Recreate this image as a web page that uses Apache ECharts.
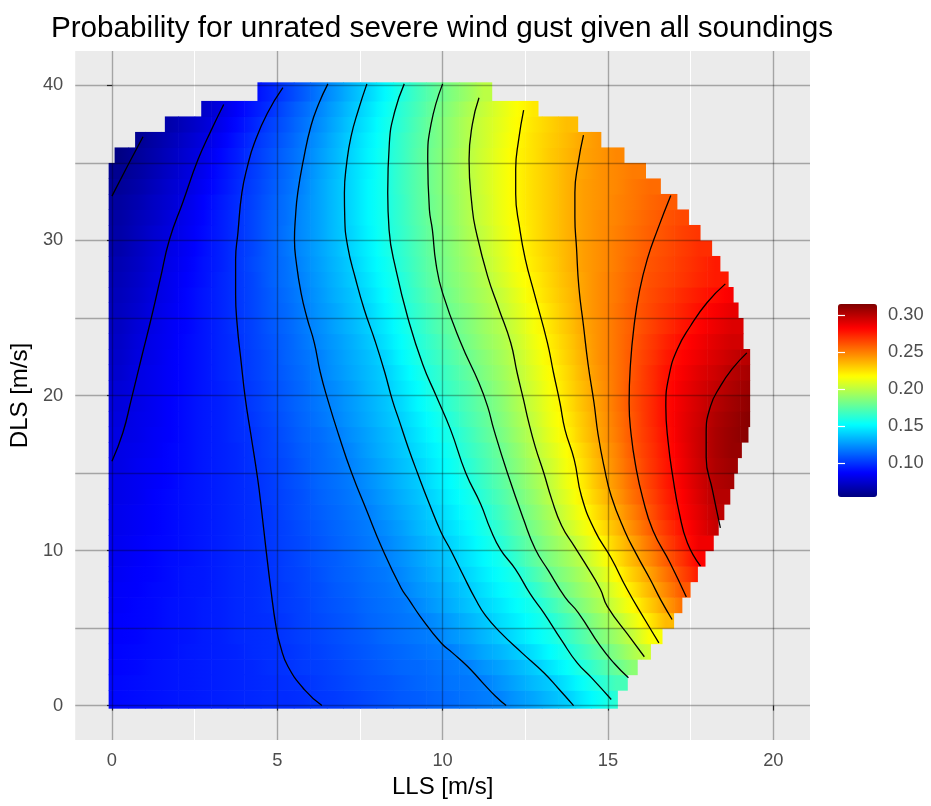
<!DOCTYPE html>
<html><head><meta charset="utf-8">
<script src="https://cdn.jsdelivr.net/npm/echarts@6/dist/echarts.min.js"></script>
<style>html,body{margin:0;padding:0;background:#fff}#c{width:931px;height:806px}</style>
</head><body><div id="c"></div>
<script>
// ---- data ----
const llsCenters = [0.25,0.75,1.25,1.75,2.25,2.75,3.25,3.75,4.25,4.75,5.25,5.75,6.25,6.75,7.25,7.75,8.25,8.75,9.25,9.75,10.25,10.75,11.25,11.75,12.25,12.75,13.25,13.75,14.25,14.75,15.25,15.75,16.25,16.75,17.25,17.75,18.25,18.75,19.25];
const dlsCenters = [0.5,1.5,2.5,3.5,4.5,5.5,6.5,7.5,8.5,9.5,10.5,11.5,12.5,13.5,14.5,15.5,16.5,17.5,18.5,19.5,20.5,21.5,22.5,23.5,24.5,25.5,26.5,27.5,28.5,29.5,30.5,31.5,32.5,33.5,34.5,35.5,36.5,37.5,38.5,39.5];
// extent of the sampled domain in each DLS row (LLS min / max), and overall DLS extent
const rowMinLLS = [-0.1,-0.1,-0.1,-0.1,-0.1,-0.1,-0.1,-0.1,-0.1,-0.1,-0.1,-0.1,-0.1,-0.1,-0.1,-0.1,-0.1,-0.1,-0.1,-0.1,-0.1,-0.1,-0.1,-0.1,-0.1,-0.1,-0.1,-0.1,-0.1,-0.1,-0.1,-0.1,-0.1,-0.1,-0.1,0.08,0.7,1.6,2.7,4.4];
const rowMaxLLS = [15.3,15.6,15.9,16.3,16.65,17.0,17.25,17.5,17.72,17.95,18.2,18.35,18.52,18.7,18.82,18.93,19.05,19.25,19.3,19.3,19.3,19.3,19.3,19.1,19.1,18.95,18.8,18.65,18.4,18.15,17.8,17.45,17.1,16.6,16.15,15.5,14.8,14.1,12.9,11.5];
const dlsExtent = [-0.2, 40.2];
// probability, one row per DLS value (bottom to top), one column per LLS value; null = no data
const prob = [
[0.089,0.090,0.091,0.092,0.093,0.094,0.095,0.096,0.097,0.098,0.098,0.099,0.101,0.102,0.104,0.106,0.108,0.110,0.111,0.113,0.115,0.117,0.119,0.121,0.126,0.130,0.135,0.140,0.148,0.155,0.163],
[0.089,0.090,0.091,0.092,0.093,0.094,0.095,0.096,0.097,0.098,0.099,0.100,0.102,0.104,0.106,0.108,0.109,0.111,0.113,0.115,0.117,0.118,0.120,0.125,0.130,0.135,0.139,0.146,0.154,0.162,0.170],
[0.088,0.089,0.091,0.092,0.093,0.094,0.095,0.096,0.097,0.099,0.100,0.102,0.103,0.105,0.107,0.109,0.111,0.113,0.114,0.116,0.118,0.120,0.125,0.129,0.134,0.139,0.146,0.153,0.161,0.170,0.179,0.188],
[0.088,0.089,0.090,0.091,0.093,0.094,0.095,0.096,0.098,0.099,0.100,0.102,0.104,0.106,0.108,0.110,0.112,0.114,0.116,0.118,0.120,0.125,0.130,0.134,0.139,0.145,0.152,0.159,0.168,0.177,0.186,0.196,0.205],
[0.087,0.088,0.090,0.091,0.092,0.094,0.095,0.097,0.098,0.099,0.101,0.103,0.105,0.107,0.109,0.111,0.114,0.116,0.118,0.120,0.125,0.129,0.134,0.139,0.145,0.151,0.157,0.165,0.174,0.184,0.193,0.203,0.216],
[0.087,0.088,0.089,0.091,0.092,0.094,0.095,0.097,0.098,0.099,0.101,0.104,0.106,0.108,0.110,0.113,0.115,0.117,0.119,0.123,0.128,0.133,0.138,0.144,0.149,0.155,0.161,0.170,0.180,0.190,0.199,0.211,0.223,0.235],
[0.086,0.088,0.089,0.091,0.092,0.094,0.095,0.097,0.098,0.100,0.102,0.104,0.107,0.109,0.111,0.114,0.116,0.118,0.122,0.127,0.132,0.137,0.142,0.147,0.153,0.158,0.167,0.177,0.187,0.196,0.207,0.218,0.230,0.242,0.254],
[0.086,0.087,0.089,0.090,0.092,0.093,0.095,0.097,0.098,0.100,0.102,0.105,0.107,0.110,0.112,0.115,0.117,0.120,0.125,0.129,0.134,0.139,0.145,0.151,0.156,0.164,0.174,0.183,0.192,0.200,0.212,0.224,0.236,0.248,0.260],
[0.085,0.087,0.088,0.090,0.092,0.093,0.095,0.097,0.098,0.100,0.103,0.105,0.108,0.111,0.113,0.116,0.118,0.122,0.127,0.132,0.137,0.142,0.148,0.154,0.160,0.170,0.180,0.188,0.196,0.206,0.218,0.230,0.241,0.253,0.265,0.276],
[0.084,0.086,0.088,0.090,0.091,0.093,0.095,0.097,0.098,0.100,0.103,0.106,0.109,0.111,0.114,0.117,0.120,0.124,0.129,0.134,0.139,0.145,0.151,0.157,0.166,0.176,0.185,0.193,0.201,0.212,0.224,0.236,0.247,0.259,0.270,0.282],
[0.084,0.086,0.088,0.089,0.091,0.093,0.095,0.097,0.099,0.101,0.104,0.106,0.109,0.112,0.115,0.118,0.121,0.126,0.131,0.136,0.142,0.148,0.155,0.162,0.171,0.180,0.189,0.197,0.207,0.218,0.230,0.241,0.253,0.265,0.276,0.286],
[0.083,0.085,0.087,0.089,0.091,0.093,0.095,0.097,0.099,0.101,0.104,0.107,0.110,0.113,0.116,0.119,0.123,0.128,0.134,0.139,0.145,0.151,0.158,0.166,0.175,0.184,0.193,0.203,0.213,0.224,0.235,0.247,0.258,0.269,0.279,0.288,0.297],
[0.083,0.085,0.087,0.089,0.091,0.093,0.095,0.097,0.099,0.101,0.105,0.108,0.111,0.114,0.117,0.120,0.125,0.130,0.135,0.141,0.147,0.154,0.160,0.169,0.178,0.187,0.196,0.207,0.217,0.228,0.239,0.250,0.261,0.272,0.282,0.290,0.299],
[0.082,0.084,0.087,0.089,0.091,0.093,0.095,0.097,0.099,0.102,0.105,0.108,0.112,0.115,0.118,0.122,0.127,0.132,0.137,0.143,0.150,0.156,0.164,0.172,0.181,0.190,0.200,0.210,0.221,0.232,0.243,0.254,0.264,0.274,0.283,0.292,0.301],
[0.082,0.084,0.086,0.088,0.091,0.093,0.095,0.097,0.099,0.102,0.106,0.109,0.113,0.116,0.119,0.124,0.129,0.134,0.139,0.146,0.152,0.159,0.167,0.175,0.184,0.193,0.202,0.213,0.223,0.235,0.245,0.256,0.266,0.276,0.285,0.294,0.302,0.305],
[0.081,0.084,0.086,0.088,0.090,0.093,0.095,0.097,0.100,0.103,0.106,0.110,0.114,0.117,0.121,0.126,0.131,0.136,0.141,0.148,0.155,0.162,0.170,0.178,0.187,0.196,0.205,0.215,0.226,0.237,0.248,0.258,0.268,0.277,0.286,0.295,0.303,0.307],
[0.081,0.083,0.085,0.088,0.090,0.093,0.095,0.097,0.100,0.104,0.107,0.111,0.114,0.118,0.122,0.128,0.133,0.138,0.144,0.150,0.157,0.165,0.172,0.180,0.189,0.199,0.208,0.217,0.228,0.239,0.249,0.260,0.269,0.278,0.287,0.296,0.304,0.309],
[0.080,0.082,0.085,0.087,0.090,0.093,0.095,0.098,0.100,0.104,0.108,0.112,0.115,0.119,0.124,0.129,0.134,0.139,0.146,0.153,0.159,0.167,0.175,0.183,0.192,0.201,0.211,0.220,0.231,0.241,0.251,0.261,0.270,0.279,0.288,0.296,0.304,0.309,0.313],
[0.079,0.082,0.084,0.087,0.090,0.093,0.095,0.098,0.101,0.105,0.109,0.113,0.117,0.121,0.126,0.131,0.136,0.141,0.148,0.155,0.162,0.170,0.177,0.185,0.194,0.203,0.213,0.222,0.232,0.242,0.252,0.261,0.271,0.280,0.288,0.295,0.303,0.308,0.313],
[0.078,0.081,0.084,0.087,0.090,0.093,0.095,0.098,0.102,0.106,0.110,0.114,0.118,0.122,0.127,0.132,0.137,0.143,0.151,0.158,0.165,0.172,0.179,0.187,0.196,0.205,0.214,0.224,0.234,0.243,0.253,0.262,0.271,0.280,0.287,0.294,0.301,0.306,0.311],
[0.077,0.080,0.083,0.086,0.089,0.092,0.095,0.098,0.102,0.106,0.110,0.114,0.119,0.123,0.128,0.134,0.139,0.146,0.153,0.161,0.168,0.174,0.182,0.190,0.198,0.207,0.216,0.226,0.235,0.244,0.253,0.262,0.270,0.279,0.286,0.292,0.298,0.303,0.308],
[0.075,0.080,0.083,0.086,0.089,0.092,0.096,0.099,0.103,0.107,0.111,0.115,0.120,0.125,0.130,0.135,0.140,0.148,0.156,0.163,0.170,0.177,0.185,0.192,0.200,0.209,0.218,0.227,0.237,0.245,0.253,0.261,0.270,0.278,0.284,0.290,0.295,0.301,0.305],
[0.074,0.079,0.082,0.086,0.089,0.092,0.096,0.099,0.103,0.107,0.112,0.116,0.120,0.126,0.131,0.136,0.142,0.151,0.159,0.166,0.173,0.180,0.187,0.194,0.202,0.211,0.220,0.229,0.238,0.246,0.253,0.261,0.268,0.276,0.282,0.287,0.292,0.297,0.301],
[0.073,0.078,0.082,0.085,0.089,0.092,0.096,0.099,0.104,0.108,0.112,0.117,0.122,0.127,0.132,0.138,0.145,0.153,0.161,0.168,0.176,0.183,0.190,0.196,0.204,0.213,0.222,0.230,0.239,0.246,0.253,0.260,0.267,0.274,0.280,0.285,0.290,0.294],
[0.072,0.077,0.081,0.085,0.088,0.092,0.096,0.100,0.104,0.109,0.113,0.118,0.123,0.129,0.134,0.140,0.147,0.155,0.163,0.171,0.178,0.185,0.192,0.198,0.206,0.215,0.224,0.232,0.240,0.246,0.253,0.259,0.265,0.271,0.277,0.282,0.287,0.291],
[0.071,0.075,0.080,0.084,0.088,0.092,0.096,0.100,0.105,0.110,0.114,0.119,0.125,0.130,0.136,0.142,0.150,0.158,0.166,0.173,0.181,0.187,0.194,0.201,0.209,0.217,0.225,0.233,0.241,0.247,0.253,0.259,0.264,0.269,0.274,0.279,0.284,0.288],
[0.070,0.074,0.079,0.083,0.088,0.092,0.096,0.100,0.105,0.110,0.115,0.120,0.126,0.132,0.137,0.144,0.152,0.160,0.168,0.176,0.183,0.190,0.196,0.203,0.211,0.220,0.227,0.234,0.241,0.247,0.252,0.258,0.263,0.267,0.272,0.276,0.280,0.284],
[0.069,0.073,0.078,0.083,0.087,0.091,0.096,0.100,0.105,0.111,0.116,0.121,0.127,0.133,0.139,0.146,0.154,0.161,0.170,0.178,0.185,0.191,0.198,0.206,0.214,0.221,0.228,0.235,0.241,0.247,0.252,0.257,0.262,0.265,0.269,0.273,0.276],
[0.068,0.072,0.077,0.082,0.086,0.091,0.095,0.100,0.106,0.111,0.116,0.122,0.128,0.134,0.140,0.148,0.155,0.163,0.171,0.179,0.186,0.193,0.200,0.208,0.216,0.223,0.229,0.236,0.242,0.246,0.251,0.256,0.261,0.264,0.268,0.272,0.276],
[0.066,0.071,0.076,0.081,0.085,0.090,0.095,0.100,0.105,0.111,0.117,0.123,0.129,0.135,0.142,0.149,0.157,0.164,0.172,0.180,0.187,0.194,0.202,0.209,0.217,0.224,0.230,0.236,0.242,0.246,0.251,0.255,0.260,0.263,0.267,0.271],
[0.065,0.070,0.075,0.079,0.084,0.089,0.094,0.099,0.105,0.111,0.117,0.123,0.129,0.136,0.142,0.150,0.158,0.165,0.173,0.181,0.188,0.196,0.203,0.211,0.218,0.225,0.231,0.237,0.242,0.246,0.250,0.254,0.258,0.262,0.266,0.269],
[0.064,0.069,0.073,0.078,0.083,0.088,0.094,0.099,0.105,0.111,0.116,0.123,0.129,0.136,0.143,0.151,0.158,0.166,0.174,0.182,0.189,0.197,0.205,0.212,0.219,0.225,0.231,0.237,0.242,0.246,0.249,0.253,0.257,0.261,0.264],
[0.063,0.067,0.072,0.076,0.081,0.087,0.093,0.098,0.104,0.110,0.116,0.122,0.129,0.136,0.143,0.151,0.158,0.166,0.175,0.182,0.190,0.198,0.205,0.213,0.220,0.226,0.231,0.237,0.242,0.245,0.249,0.252,0.256,0.259],
[0.061,0.065,0.070,0.075,0.079,0.085,0.091,0.097,0.103,0.109,0.115,0.121,0.129,0.136,0.143,0.151,0.158,0.167,0.175,0.183,0.191,0.198,0.206,0.213,0.220,0.226,0.231,0.237,0.242,0.245,0.248,0.252,0.255],
[0.059,0.063,0.068,0.073,0.078,0.083,0.090,0.096,0.102,0.108,0.114,0.120,0.128,0.135,0.143,0.150,0.158,0.167,0.175,0.183,0.191,0.199,0.206,0.213,0.220,0.226,0.231,0.237,0.241,0.245,0.248,0.251],
[0.056,0.061,0.066,0.071,0.076,0.081,0.088,0.094,0.101,0.107,0.113,0.119,0.127,0.134,0.142,0.150,0.158,0.166,0.175,0.183,0.191,0.199,0.206,0.213,0.220,0.225,0.231,0.236,0.241,0.244,0.248],
[null,0.059,0.064,0.069,0.074,0.079,0.085,0.092,0.099,0.105,0.111,0.118,0.125,0.133,0.141,0.149,0.157,0.166,0.174,0.182,0.190,0.198,0.205,0.212,0.219,0.225,0.230,0.235,0.240,0.244],
[null,null,null,0.066,0.071,0.076,0.082,0.089,0.096,0.103,0.109,0.116,0.123,0.131,0.139,0.147,0.156,0.164,0.173,0.182,0.190,0.198,0.205,0.211,0.218,0.224,0.229,0.234],
[null,null,null,null,null,0.073,0.079,0.086,0.093,0.099,0.107,0.114,0.121,0.129,0.137,0.145,0.154,0.163,0.171,0.180,0.188,0.196,0.203,0.210,0.217,0.223],
[null,null,null,null,null,null,null,null,0.090,0.096,0.103,0.110,0.118,0.126,0.134,0.142,0.151,0.160,0.169,0.177,0.185,0.192,0.200]
];
// contour lines (LLS, DLS), one per level
const contourLevels = [0.06,0.08,0.10,0.12,0.14,0.16,0.18,0.20,0.22,0.24,0.26,0.28,0.30];
const c06 = [[0.0,32.86],[0.47,34.8],[0.94,36.69]];
const c08 = [[0.0,15.76],[0.33,17.6],[0.58,19.7],[0.9,22.5],[1.19,25.0],[1.46,27.5],[1.74,30.06],[2.15,32.5],[2.6,35.2],[3.0,37.1],[3.38,38.77]];
const c10 = [[6.35,0],[5.82,1.03],[5.32,2.54],[5.1,3.8],[4.96,5.12],[4.8,7.6],[4.66,10.06],[4.53,12.5],[4.41,14.58],[4.2,17.5],[4.04,19.7],[3.9,22.3],[3.79,24.5],[3.74,26.5],[3.74,28.77],[3.81,30.5],[3.93,33.08],[4.1,34.8],[4.31,36.3],[4.7,38.2],[5.17,39.85]];
const c12 = [[11.92,0],[11.6,0.6],[11.2,1.5],[10.75,2.54],[10.3,3.4],[9.95,4.05],[9.32,5.76],[8.98,6.84],[8.74,7.6],[8.16,10.2],[7.7,12.6],[7.25,15.0],[6.85,17.5],[6.53,19.7],[6.3,21.5],[6.12,23.4],[5.9,25.0],[5.72,26.6],[5.58,28.5],[5.52,30.06],[5.55,31.5],[5.62,33.08],[5.8,35.3],[6.02,37.4],[6.25,38.8],[6.53,40.1]];
const c14 = [[13.96,0],[13.5,1.1],[13.07,2.1],[12.4,3.4],[11.76,4.69],[11.3,5.8],[11.0,6.84],[10.6,8.5],[10.25,10.0],[9.95,11.2],[9.6,13.0],[9.24,15.0],[8.95,16.7],[8.7,18.3],[8.48,19.7],[8.25,21.5],[7.96,23.5],[7.63,25.55],[7.37,27.5],[7.13,29.6],[7.04,31.5],[7.03,33.08],[7.1,35.0],[7.23,36.7],[7.45,38.4],[7.71,40.1]];
const c16 = [[15.1,0.39],[14.5,1.8],[14.07,2.75],[13.6,4.2],[13.06,5.98],[12.65,7.2],[12.2,8.8],[11.75,10.06],[11.45,11.35],[11.15,13.0],[10.7,15.0],[10.24,17.8],[9.8,20.0],[9.4,22.0],[8.95,25.0],[8.6,28.0],[8.38,30.7],[8.34,33.08],[8.39,36.3],[8.55,38.3],[8.84,40.1]];
const c18 = [[15.62,1.79],[15.2,2.7],[14.77,3.83],[14.1,6.0],[13.7,7.0],[13.2,8.7],[12.8,10.1],[12.45,12.0],[11.96,15.0],[11.55,17.8],[11.36,19.3],[11.1,20.8],[10.55,23.4],[10.0,26.6],[9.8,28.5],[9.69,30.7],[9.6,32.0],[9.55,35.2],[9.65,37.5],[10.0,40.1]];
const c20 = [[16.1,3.15],[15.7,4.3],[14.98,6.4],[14.77,7.5],[14.3,9.2],[13.98,10.28],[13.6,11.6],[13.3,13.3],[13.06,15.0],[12.8,16.7],[12.6,18.3],[12.45,19.7],[12.25,21.5],[12.06,23.4],[11.7,25.6],[11.36,27.7],[11.0,30.7],[10.9,32.0],[10.8,35.2],[10.9,37.5],[11.1,39.2]];
const c22 = [[16.54,4.05],[16.1,5.6],[15.58,7.5],[15.1,9.5],[14.6,11.3],[14.2,13.5],[13.98,15.87],[13.7,17.8],[13.55,19.5],[13.35,21.5],[13.17,23.4],[12.77,26.6],[12.5,28.8],[12.33,30.8],[12.21,33.0],[12.21,34.6],[12.3,36.5],[12.45,38.4]];
const c24 = [[16.94,5.55],[16.6,6.8],[16.28,8.13],[15.85,9.8],[15.5,11.3],[15.1,13.5],[14.88,15.44],[14.7,17.5],[14.58,19.5],[14.4,22.0],[14.26,24.5],[14.12,27.0],[14.05,29.5],[14.0,31.5],[14.0,33.1],[14.1,35.0],[14.26,36.8]];
const c26 = [[17.37,7.0],[16.88,9.2],[16.36,11.3],[16.05,13.4],[15.84,15.44],[15.7,17.5],[15.64,19.5],[15.68,22.0],[15.79,24.5],[15.95,26.7],[16.19,28.8],[16.5,30.7],[16.9,32.9]];
const c28 = [[17.8,8.99],[17.4,10.5],[17.15,12.5],[16.98,14.5],[16.82,17.0],[16.75,19.3],[16.85,21.3],[17.1,23.0],[17.5,24.5],[18.0,26.0],[18.55,27.2]];
const c30 = [[18.4,11.46],[18.16,13.9],[17.97,16.0],[17.97,17.5],[18.1,19.3],[18.4,20.6],[18.75,21.7],[19.2,22.75]];
const contourPaths = [c06,c08,c10,c12,c14,c16,c18,c20,c22,c24,c26,c28,c30];
// axes / legend ticks
const xTicks = [0,5,10,15,20];
const yTicks = [0,10,20,30,40];
const minorX = [2.5,7.5,12.5,17.5];
const refX = [0,5,10,15,20];
const refY = [0,5,10,15,20,25,30,35,40];
const colorbarTicks = [0.10,0.15,0.20,0.25,0.30];
const probRange = [0.0547,0.315];
const jetColors = ['#00007F','#0000FF','#007FFF','#00FFFF','#7FFF7F','#FFFF00','#FF7F00','#FF0000','#7F0000'];

// ---- build ----
const cells = [];
const cellIndex = [];
prob.forEach(function (row, j) {
  row.forEach(function (v, i) {
    if (v !== null) { cells.push([llsCenters[i], dlsCenters[j], v]); cellIndex.push([i, j]); }
  });
});
const halfW = (llsCenters[1] - llsCenters[0]) / 2;
const halfH = (dlsCenters[1] - dlsCenters[0]) / 2;
function colorOf(v) {
  return echarts.color.lerp((v - probRange[0]) / (probRange[1] - probRange[0]), jetColors);
}

const FONT = 'Liberation Sans, Arial, Helvetica, sans-serif';
const chart = echarts.init(document.getElementById('c'), null, {renderer: 'canvas'});

const contourSeries = contourPaths.map(function (p, k) {
  return {
    name: 'contour ' + contourLevels[k], type: 'line', xAxisIndex: 0, yAxisIndex: 0,
    data: p, showSymbol: false, symbol: 'none', smooth: 0.5, silent: true,
    lineStyle: {color: '#000', width: 1.3}, z: 4, animation: false
  };
});

chart.setOption({
  animation: false,
  textStyle: {fontFamily: FONT},
  title: {
    text: 'Probability for unrated severe wind gust given all soundings',
    left: 442, top: 14, textAlign: 'center', padding: 0,
    textStyle: {fontSize: 29.7, fontWeight: 'normal', color: '#000', fontFamily: FONT}
  },
  grid: [
    {left: 74, top: 51, width: 736, height: 689, show: true, backgroundColor: '#EBEBEB', borderWidth: 0},
    {left: 838, top: 304, width: 39, height: 193, show: false}
  ],
  xAxis: [
    {type: 'value', gridIndex: 0, min: -1.11, max: 21.11,
     name: 'LLS [m/s]', nameLocation: 'middle', nameGap: 33,
     nameTextStyle: {fontSize: 24, color: '#000', fontFamily: FONT},
     axisLine: {show: false}, splitLine: {show: false},
     axisTick: {show: true, customValues: xTicks, length: 5, lineStyle: {color: '#333', width: 1.2}},
     axisLabel: {show: true, customValues: xTicks, margin: 12, fontSize: 18.3, color: '#4D4D4D', fontFamily: FONT}},
    {type: 'value', gridIndex: 1, min: 0, max: 1, show: false}
  ],
  yAxis: [
    {type: 'value', gridIndex: 0, min: -2.22, max: 42.22,
     name: 'DLS [m/s]', nameLocation: 'middle', nameGap: 32, nameRotate: 90,
     nameTextStyle: {fontSize: 24, color: '#000', fontFamily: FONT},
     axisLine: {show: false}, splitLine: {show: false},
     axisTick: {show: true, customValues: yTicks, length: 5, lineStyle: {color: '#333', width: 1.2}},
     axisLabel: {show: true, customValues: yTicks, margin: 12, fontSize: 18.3, color: '#4D4D4D', fontFamily: FONT}},
    {type: 'value', gridIndex: 1, min: probRange[0], max: probRange[1], position: 'right', z: 10,
     axisLine: {show: false}, splitLine: {show: false},
     axisTick: {show: true, inside: true, customValues: colorbarTicks, length: 7, lineStyle: {color: '#fff', width: 1.2}},
     axisLabel: {show: true, customValues: colorbarTicks, margin: 11, fontSize: 18.3, color: '#4D4D4D', fontFamily: FONT,
                 formatter: function (v) { return v.toFixed(2); }}},
    {type: 'value', gridIndex: 1, min: probRange[0], max: probRange[1], position: 'left', z: 10,
     axisLine: {show: false}, splitLine: {show: false}, axisLabel: {show: false},
     axisTick: {show: true, inside: true, customValues: colorbarTicks, length: 7, lineStyle: {color: '#fff', width: 1.2}}}
  ],
  visualMap: {
    type: 'continuous', seriesIndex: 1, dimension: 2,
    min: probRange[0], max: probRange[1], calculable: false, hoverLink: false,
    left: 838, top: 304, itemWidth: 39, itemHeight: 193, padding: 0, orient: 'vertical',
    inRange: {color: jetColors}, text: null, showLabel: false
  },
  series: [
    {type: 'line', xAxisIndex: 0, yAxisIndex: 0, data: [], silent: true, z: 1,
     markLine: {silent: true, symbol: ['none', 'none'], label: {show: false}, z: 1, animation: false,
                lineStyle: {color: '#FFFFFF', width: 1, type: 'solid'},
                data: minorX.map(function (v) { return {xAxis: v}; })}},
    {type: 'custom', xAxisIndex: 0, yAxisIndex: 0, data: cells, z: 2, silent: true, animation: false,
     encode: {x: 0, y: 1},
     renderItem: function (params, api) {
       const x = api.value(0), y = api.value(1), v = api.value(2);
       const ij = cellIndex[params.dataIndex];
       const i = ij[0], j = ij[1];
       const row = prob[j];
       const isFirst = i === 0 || row[i - 1] == null;
       const isLast = i + 1 >= row.length || row[i + 1] == null;
       const vl = isFirst ? v : row[i - 1];
       const vr = isLast ? v : row[i + 1];
       const left = isFirst ? rowMinLLS[j] : x - halfW;
       const right = isLast ? rowMaxLLS[j] : x + halfW;
       const bottom = j === 0 ? dlsExtent[0] : y - halfH;
       const top = j === prob.length - 1 ? dlsExtent[1] : y + halfH;
       const p0 = api.coord([left, top]);
       const p1 = api.coord([right, bottom]);
       const mid = Math.min(0.99, Math.max(0.01, (x - left) / (right - left)));
       const fill = new echarts.graphic.LinearGradient(0, 0, 1, 0, [
         {offset: 0, color: colorOf((vl + v) / 2)},
         {offset: mid, color: api.visual('color')},
         {offset: 1, color: colorOf((vr + v) / 2)}
       ]);
       return {type: 'rect',
               shape: {x: p0[0], y: p0[1], width: p1[0] - p0[0] + (isLast ? 0 : 0.6), height: p1[1] - p0[1] + (j === 0 ? 0 : 0.6)},
               style: {fill: fill}};
     }},
    {type: 'line', xAxisIndex: 0, yAxisIndex: 0, data: [], silent: true, z: 6,
     markLine: {silent: true, symbol: ['none', 'none'], label: {show: false}, z: 6, animation: false,
                lineStyle: {color: 'rgba(0,0,0,0.3)', width: 1.4, type: 'solid'},
                data: refX.map(function (v) { return {xAxis: v}; }).concat(refY.map(function (v) { return {yAxis: v}; }))}}
  ].concat(contourSeries)
});
</script></body></html>
